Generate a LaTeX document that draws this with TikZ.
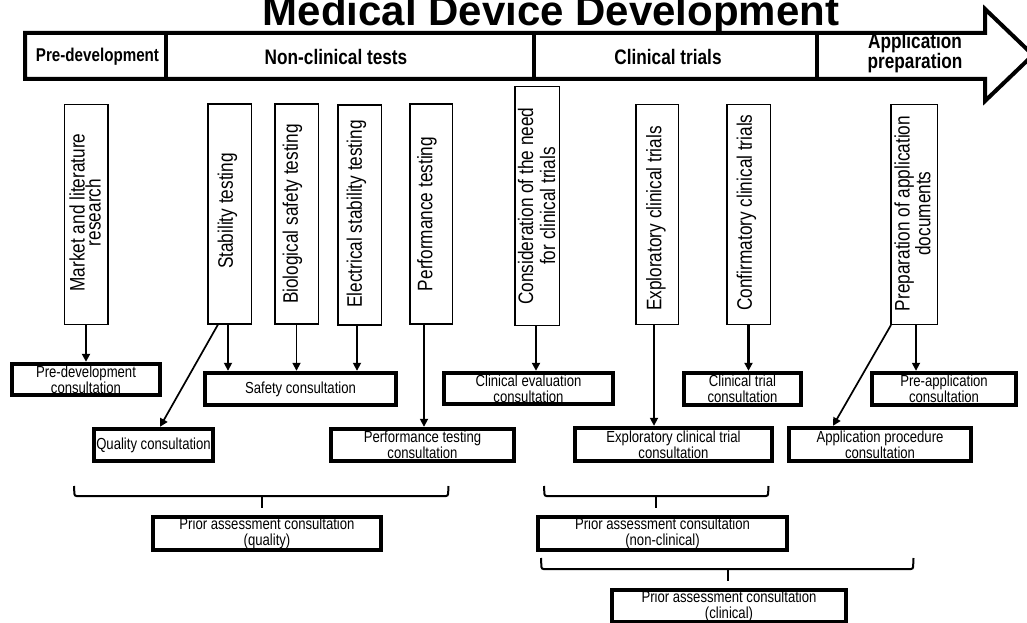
\documentclass[tikz,border=0pt]{standalone}
\usepackage{fontspec}
\setmainfont{Liberation Sans}
\newfontfamily\narrowfont[FakeStretch=0.82]{Liberation Sans}
\usetikzlibrary{arrows.meta}

\begin{document}
\begin{tikzpicture}[x=1pt,y=-1pt,
  phase/.style={inner sep=0, align=center,
    font=\narrowfont\bfseries\fontsize{21}{20}\selectfont},
  stepbox/.style={draw, line width=1.5pt, inner sep=0,
    minimum width=43.5pt, minimum height=219.5pt},
  steptext/.style={rotate=90, inner sep=0, align=center,
    font=\narrowfont\fontsize{21}{16}\selectfont},
  consult/.style={draw, line width=4.4pt, inner sep=0, align=center,
    font=\narrowfont\fontsize{16}{16}\selectfont},
  link/.style={line width=1.7pt, -{Triangle[length=8pt,width=8pt]}},
  boldlink/.style={line width=2.6pt, -{Triangle[length=8pt,width=8pt]}},
  bracket/.style={line width=2pt, rounded corners=2pt},
  bracketpoint/.style={line width=2.6pt},
]
\useasboundingbox (0,0) rectangle (1027,623);

% title
\node[anchor=base, inner sep=0, font=\bfseries\fontsize{42}{42}\selectfont]
  (title) at (551,25.5) {Medical Device Development};

% timeline arrow with phase dividers
\draw[line width=4pt, miter limit=10]
  (25,33) -- (985,33) -- (985,9) -- (1033,55) -- (985,101) -- (985,79)
  -- (25,79) -- cycle;
\foreach \dx in {166,533.5,817}
  \draw[line width=4pt] (\dx,33) -- (\dx,79);

\node[phase, font=\narrowfont\bfseries\fontsize{18.5}{20}\selectfont]
  (ph1) at (97.5,57) {Pre-development};
\node[phase] (ph2) at (336,57) {Non-clinical tests};
\node[phase] (ph3) at (668,57) {Clinical trials};
\node[phase] (ph4) at (915,53) {Application\\preparation};

% activities (vertical boxes)
\node[stepbox] (market)  at (86,214.5) {};
\node[stepbox] (stab)    at (229.5,214) {};
\node[stepbox] (bio)     at (296.5,214) {};
\node[stepbox] (elec)    at (359.5,215) {};
\node[stepbox, minimum width=42.5pt] (perf) at (431,214) {};
\node[stepbox, minimum height=238.5pt, minimum width=44.5pt] (consid) at (537,206) {};
\node[stepbox, minimum width=42.5pt] (explor) at (657,214.5) {};
\node[stepbox] (confirm) at (748.5,214.5) {};
\node[stepbox, minimum width=46.5pt] (prep) at (914,214.5) {};

\node[steptext] (t-market) at ([xshift=-1pt,yshift=2pt]market.center)
  {Market and literature\\research};
\node[steptext] (t-stab) at ([xshift=-2pt,yshift=3pt]stab.center) {Stability testing};
\node[steptext] (t-bio) at ([xshift=-4pt]bio.center) {Biological safety testing};
\node[steptext] (t-elec) at ([xshift=-3pt,yshift=1pt]elec.center) {Electrical stability testing};
\node[steptext] (t-perf) at ([xshift=-4pt]perf.center) {Performance testing};
\node[steptext, font=\narrowfont\fontsize{21}{22}\selectfont] (t-consid)
  at ([xshift=-0.5pt]consid.center) {Consideration of the need\\for clinical trials};
\node[steptext] (t-explor) at ([xshift=-1pt,yshift=-4pt]explor.center) {Exploratory clinical trials};
\node[steptext] (t-confirm) at ([xshift=-2pt,yshift=2pt]confirm.center) {Confirmatory clinical trials};
\node[steptext, font=\narrowfont\fontsize{21}{19.5}\selectfont] (t-prep)
  at ([xshift=-1.5pt,yshift=1pt]prep.center) {Preparation of application\\documents};

% consultations
\node[consult, minimum width=148pt, minimum height=31pt] (pdc) at (86,379.5)
  {Pre-development\\consultation};
\node[consult, minimum width=191pt, minimum height=32pt] (safety) at (300.5,389)
  {Safety consultation};
\node[consult, minimum width=119pt, minimum height=32pt] (quality) at (153.5,445)
  {Quality consultation};
\node[consult, minimum width=183pt, minimum height=32pt] (perfc) at (422.5,445)
  {Performance testing\\consultation};
\node[consult, minimum width=228pt, minimum height=33pt] (pacq) at (267,533.5)
  {Prior assessment consultation\\(quality)};
\node[consult, minimum width=169pt, minimum height=31pt] (clineval) at (528.5,388.5)
  {Clinical evaluation\\consultation};
\node[consult, minimum width=117pt, minimum height=32pt] (ctc) at (742.5,389)
  {Clinical trial\\consultation};
\node[consult, minimum width=144pt, minimum height=32pt] (preapp) at (944,389)
  {Pre-application\\consultation};
\node[consult, minimum width=197pt, minimum height=33pt] (expc) at (673.5,444.5)
  {Exploratory clinical trial\\consultation};
\node[consult, minimum width=182pt, minimum height=33pt] (appproc) at (880,444.5)
  {Application procedure\\consultation};
\node[consult, minimum width=249pt, minimum height=33pt] (pacn) at (662.5,533.5)
  {Prior assessment consultation\\(non-clinical)};
\node[consult, minimum width=234pt, minimum height=32pt] (pacc) at (729,606)
  {Prior assessment consultation\\(clinical)};

% connectors
\draw[boldlink] (market.south) -- (market.south |- pdc.north);
\draw[link] ([xshift=-11.5pt]stab.south) -- ([xshift=6.5pt]quality.north);
\draw[link] ([xshift=-1.5pt]stab.south) -- ([xshift=-1.5pt]stab.south |- safety.north);
\draw[link] (bio.south) -- (bio.south |- safety.north);
\draw[link] ([xshift=-2.5pt]elec.south) -- ([xshift=-2.5pt]elec.south |- safety.north);
\draw[link] ([xshift=-7pt]perf.south) -- ([xshift=-7pt]perf.south |- perfc.north);
\draw[boldlink] ([xshift=-1pt]consid.south) -- ([xshift=-1pt]consid.south |- clineval.north);
\draw[link] ([xshift=-3pt]explor.south) -- ([xshift=-3pt]explor.south |- expc.north);
\draw[boldlink] (confirm.south) -- (confirm.south |- ctc.north);
\draw[link] ([xshift=-23pt]prep.south) -- ([xshift=-47pt]appproc.north);
\draw[link] ([xshift=2pt]prep.south) -- ([xshift=2pt]prep.south |- preapp.north);

% brackets grouping consultations
\coordinate (bq) at (262,496);
\draw[bracket] (74,486) -- (74.5,496) -- (448,496) -- (448.5,486);
\draw[bracketpoint] (bq) -- (262,508);

\coordinate (bn) at (656,496);
\draw[bracket] (544,486) -- (544.5,496) -- (768,496) -- (768.5,486);
\draw[bracketpoint] (bn) -- (656,508);

\coordinate (bc) at (728,569);
\draw[bracket] (541,558) -- (541.5,569) -- (913,569) -- (913.5,558);
\draw[bracketpoint] (bc) -- (728,581);
\end{tikzpicture}
\end{document}
